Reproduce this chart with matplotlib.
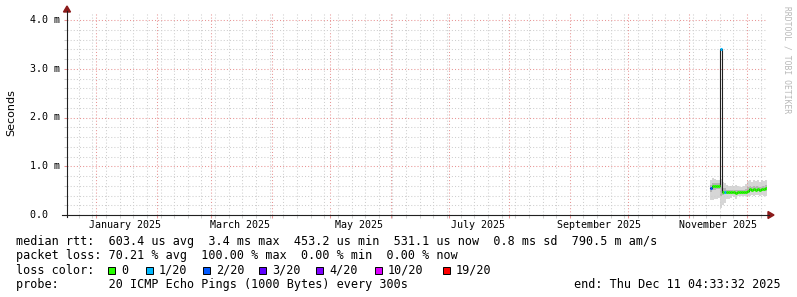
from datetime import datetime, timedelta
import matplotlib
matplotlib.use("Agg")
import matplotlib.pyplot as plt
import matplotlib.dates as mdates
from matplotlib.patches import Polygon, Rectangle
from matplotlib.ticker import MultipleLocator

# --- data (ms), one value per day from Nov 12 2025 ---
t_first = datetime(2025, 11, 12)
t_end = datetime(2025, 12, 11, 4, 33, 32)
t_start = datetime(2024, 12, 17)

median = [0.55, 0.59, 0.59, 0.59, 0.59, 3.41, 0.47, 0.48, 0.47, 0.47,
          0.47, 0.47, 0.47, 0.46, 0.47, 0.47, 0.47, 0.47, 0.47, 0.50,
          0.53, 0.52, 0.54, 0.52, 0.53, 0.52, 0.54, 0.53, 0.55, 0.53]
loss = [2, 0, 0, 0, 0, 1, 0, 1, 0, 0,
        0, 0, 0, 0, 0, 0, 0, 0, 0, 0,
        0, 0, 0, 0, 0, 0, 0, 0, 0, 0]
smoke_min = [0.30, 0.30, 0.32, 0.33, 0.35, 0.15, 0.20, 0.25, 0.33, 0.33,
             0.34, 0.38, 0.36, 0.33, 0.38, 0.40, 0.38, 0.40, 0.40, 0.38,
             0.40, 0.42, 0.40, 0.42, 0.42, 0.40, 0.42, 0.40, 0.40, 0.42]
smoke_max = [0.72, 0.75, 0.74, 0.72, 0.72, 0.74, 0.68, 0.66, 0.62, 0.60,
             0.60, 0.62, 0.60, 0.62, 0.60, 0.58, 0.58, 0.60, 0.64, 0.70,
             0.72, 0.68, 0.72, 0.70, 0.72, 0.68, 0.72, 0.70, 0.72, 0.70]
smoke_lo = [0.48, 0.52, 0.52, 0.53, 0.53, 0.40, 0.42, 0.43, 0.44, 0.44,
            0.44, 0.44, 0.44, 0.43, 0.44, 0.44, 0.44, 0.44, 0.44, 0.47,
            0.49, 0.48, 0.50, 0.49, 0.49, 0.48, 0.50, 0.49, 0.50, 0.49]
smoke_hi = [0.62, 0.66, 0.66, 0.65, 0.65, 0.60, 0.55, 0.55, 0.52, 0.51,
            0.51, 0.52, 0.51, 0.52, 0.51, 0.51, 0.51, 0.52, 0.53, 0.58,
            0.60, 0.58, 0.60, 0.59, 0.60, 0.58, 0.60, 0.59, 0.61, 0.59]

loss_levels = [0, 1, 2, 3, 4, 10, 19]
loss_labels = ["0", "1/20", "2/20", "3/20", "4/20", "10/20", "19/20"]
loss_colors = ["#26ff00", "#00b8ff", "#0059ff", "#5e00ff", "#7e00ff", "#dd00ff", "#ff0000"]

y_ticks = [0, 1, 2, 3, 4]
y_labels = ["0.0  ", "1.0 m", "2.0 m", "3.0 m", "4.0 m"]
label_months = [datetime(2025, m, 16) for m in (1, 3, 5, 7, 9, 11)]

legend_lines = [
    "median rtt:  603.4 us avg  3.4 ms max  453.2 us min  531.1 us now  0.8 ms sd  790.5 m am/s",
    "packet loss: 70.21 % avg  100.00 % max  0.00 % min  0.00 % now",
]
probe_text = "probe:       20 ICMP Echo Pings (1000 Bytes) every 300s"
end_text = "end: Thu Dec 11 04:33:32 2025"

MONO = "DejaVu Sans Mono"
W, H = 797, 297

fig = plt.figure(figsize=(W / 100, H / 100), dpi=100)
fig.patch.set_facecolor("white")

# plot area in pixels: x 67..767, y 13..215
ax = fig.add_axes([67 / W, (H - 215) / H, 700 / W, 202 / H])
ax.set_xlim(mdates.date2num(t_start), mdates.date2num(t_end))
ax.set_ylim(0, 202 / 48.75)
for s in ax.spines.values():
    s.set_visible(False)

edges = [t_first + timedelta(days=i) for i in range(len(median))] + [t_end]
xe = mdates.date2num(edges)

def ext(v):
    return list(v) + [v[-1]]

ax.fill_between(xe, ext(smoke_min), ext(smoke_max), step="post", color="#d6d6d6", lw=0, zorder=1)
ax.fill_between(xe, ext(smoke_lo), ext(smoke_hi), step="post", color="#b4b4b4", lw=0, zorder=1)
ax.step(xe, ext(median), where="post", color="#202020", lw=0.8, zorder=2)
for i, m in enumerate(median):
    c = loss_colors[max(j for j, lv in enumerate(loss_levels) if loss[i] >= lv)]
    ax.hlines(m, xe[i], xe[i + 1], colors=c, lw=2.2, zorder=3)

# grid
ax.xaxis.set_major_locator(mdates.MonthLocator())
ax.xaxis.set_minor_locator(mdates.WeekdayLocator(byweekday=mdates.MO))
ax.yaxis.set_major_locator(MultipleLocator(1))
ax.yaxis.set_minor_locator(MultipleLocator(0.2))
ax.set_axisbelow("line")
dots = (0, (1, 2))
ax.grid(which="minor", color="#cfcfcf", ls=dots, lw=0.75)
ax.grid(which="major", color="#e89494", ls=dots, lw=0.75)
ax.tick_params(which="both", length=2, width=0.75, labelbottom=False, labelleft=False)
ax.tick_params(which="major", color="#e89494")
ax.tick_params(which="minor", color="#cfcfcf")

# overlay in pixel coordinates
ov = fig.add_axes([0, 0, 1, 1], facecolor="none")
ov.set_xlim(0, W)
ov.set_ylim(H, 0)
ov.axis("off")

ov.plot([67, 67], [217, 11], color="#202020", lw=0.8)
ov.plot([62, 769], [215, 215], color="#202020", lw=0.8)
ov.add_patch(Polygon([[67, 6], [63.5, 12], [70.5, 12]], color="#8b1a1a"))
ov.add_patch(Polygon([[774, 215], [768, 211.5], [768, 218.5]], color="#8b1a1a"))

for v, lab in zip(y_ticks, y_labels):
    ypix = 215 - v * 48.75
    ov.text(60.5, ypix, lab, ha="right", va="center", family=MONO, fontsize=7.2)

for d in label_months:
    xpix = 67 + (mdates.date2num(d) - mdates.date2num(t_start)) / \
        (mdates.date2num(t_end) - mdates.date2num(t_start)) * 700
    ov.text(xpix, 228, d.strftime("%B %Y"), ha="center", va="baseline", family=MONO, fontsize=7.2)

ov.text(11, 113, "Seconds", rotation=90, ha="center", va="center", family="DejaVu Sans", fontsize=8)
ov.text(787, 6, "RRDTOOL / TOBI OETIKER", rotation=-90, ha="center", va="top",
        family=MONO, fontsize=5.8, color="#b8b8b8")

ov.text(16, 245, legend_lines[0], family=MONO, fontsize=8.5, va="baseline")
ov.text(16, 259, legend_lines[1], family=MONO, fontsize=8.5, va="baseline")
ov.text(16, 273.5, "loss color:", family=MONO, fontsize=8.5, va="baseline")
sq_x = [108, 146, 203, 259, 316, 375, 443]
for x0, lab, col in zip(sq_x, loss_labels, loss_colors):
    ov.add_patch(Rectangle((x0, 266.5), 7.5, 7.5, facecolor=col, edgecolor="black", lw=0.7))
    ov.text(x0 + 13, 273.5, lab, family=MONO, fontsize=8.5, va="baseline")
ov.text(16, 288, probe_text, family=MONO, fontsize=8.5, va="baseline")
ov.text(781, 288, end_text, family=MONO, fontsize=8.5, va="baseline", ha="right")

fig.savefig("out.png", dpi=100)
